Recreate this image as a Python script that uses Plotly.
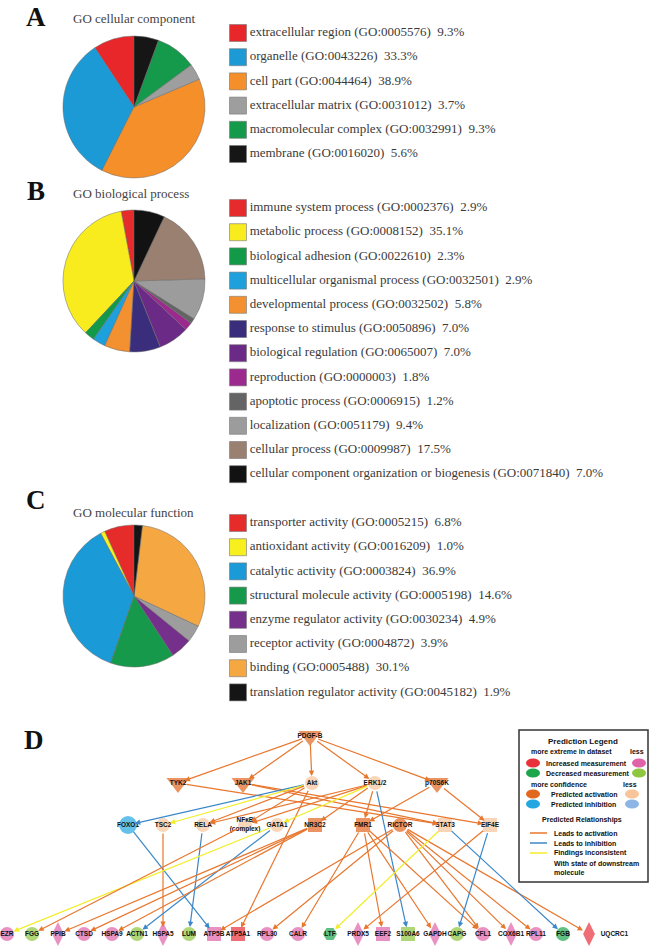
import plotly.graph_objects as go

# ---------------- GO pie data ----------------
cc_terms = ["extracellular region", "organelle", "cell part", "extracellular matrix",
            "macromolecular complex", "membrane"]
cc_ids = ["GO:0005576", "GO:0043226", "GO:0044464", "GO:0031012", "GO:0032991", "GO:0016020"]
cc_pct = [9.3, 33.3, 38.9, 3.7, 9.3, 5.6]
cc_colors = ["#E8272B", "#1C9AD6", "#F58F2A", "#9E9E9E", "#15994A", "#161616"]

bp_terms = ["immune system process", "metabolic process", "biological adhesion",
            "multicellular organismal process", "developmental process", "response to stimulus",
            "biological regulation", "reproduction", "apoptotic process", "localization",
            "cellular process", "cellular component organization or biogenesis"]
bp_ids = ["GO:0002376", "GO:0008152", "GO:0022610", "GO:0032501", "GO:0032502", "GO:0050896",
          "GO:0065007", "GO:0000003", "GO:0006915", "GO:0051179", "GO:0009987", "GO:0071840"]
bp_pct = [2.9, 35.1, 2.3, 2.9, 5.8, 7.0, 7.0, 1.8, 1.2, 9.4, 17.5, 7.0]
bp_colors = ["#E52B2B", "#F8EC1E", "#139A48", "#1DA0DB", "#F39130", "#3A2E7C",
             "#6B2A86", "#9C2A8E", "#646464", "#9C9C9C", "#9A8070", "#121212"]

mf_terms = ["transporter activity", "antioxidant activity", "catalytic activity",
            "structural molecule activity", "enzyme regulator activity", "receptor activity",
            "binding", "translation regulator activity"]
mf_ids = ["GO:0005215", "GO:0016209", "GO:0003824", "GO:0005198", "GO:0030234", "GO:0004872",
          "GO:0005488", "GO:0045182"]
mf_pct = [6.8, 1.0, 36.9, 14.6, 4.9, 3.9, 30.1, 1.9]
mf_colors = ["#E62B2B", "#F8EF1F", "#1B9AD8", "#16994A", "#74308A", "#9D9D9D", "#F5A742", "#151515"]

# ---------------- network data ----------------
node_names = ["PDGF-B",
              "TYK2", "JAK1", "Akt", "ERK1/2", "p70S6K",
              "FOXO1", "TSC2", "RELA", "NFκB", "GATA1", "NR3C2", "FMR1", "RICTOR", "STAT3", "EIF4E",
              "EZR", "FGG", "PPIB", "CTSD", "HSPA9", "ACTN1", "HSPA5", "LUM", "ATP5B", "ATP5A1",
              "RPL30", "CALR", "LTF", "PRDX5", "EEF2", "S100A6", "GAPDH", "CAPG", "CFL1",
              "COX6B1", "RPL11", "FGB", "UQCRC1"]
# state: act / act_lo / inh / up / up_lo / down / down_lo
node_state = ["act",
              "act", "act", "act_lo", "act_lo", "act",
              "inh", "act_lo", "act_lo", "act_lo", "act_lo", "act", "act", "act", "act_lo", "act_lo",
              "up_lo", "down_lo", "up_lo", "up_lo", "up_lo", "down_lo", "up_lo", "down_lo", "up_lo", "up",
              "up_lo", "up_lo", "down", "up_lo", "up_lo", "down_lo", "up_lo", "down_lo", "up_lo",
              "up_lo", "up_lo", "down", "up"]
node_shape = ["triangle-down",
              "triangle-down", "triangle-down", "circle", "circle", "triangle-down",
              "circle", "circle", "circle", "circle", "circle", "square", "square", "circle", "square", "square",
              "circle", "circle", "diamond-tall", "circle", "circle", "circle", "diamond-tall", "circle",
              "square", "square", "circle", "circle", "hexagon2", "diamond-tall", "square", "square",
              "diamond-tall", "circle", "circle", "diamond-tall", "circle", "circle", "diamond-tall"]

# (source, target, relationship)
edges = [
    ("PDGF-B", "TYK2", "act"), ("PDGF-B", "JAK1", "act"), ("PDGF-B", "Akt", "act"),
    ("PDGF-B", "ERK1/2", "act"), ("PDGF-B", "p70S6K", "act"),
    ("TYK2", "STAT3", "act"), ("JAK1", "STAT3", "act"), ("JAK1", "EIF4E", "act"),
    ("Akt", "FOXO1", "inh"), ("Akt", "TSC2", "inc"), ("Akt", "RELA", "act"), ("Akt", "NFκB", "act"),
    ("Akt", "ATP5A1", "act"),
    ("ERK1/2", "RELA", "act"), ("ERK1/2", "NFκB", "act"), ("ERK1/2", "GATA1", "inc"),
    ("ERK1/2", "NR3C2", "act"), ("ERK1/2", "FMR1", "act"), ("ERK1/2", "S100A6", "inh"),
    ("p70S6K", "FMR1", "act"), ("p70S6K", "EIF4E", "act"),
    ("FOXO1", "ATP5B", "inh"), ("TSC2", "HSPA5", "act"), ("RELA", "LUM", "inh"),
    ("GATA1", "ACTN1", "inh"), ("GATA1", "EZR", "inc"), ("NFκB", "FGG", "act"),
    ("NR3C2", "PPIB", "act"), ("NR3C2", "CTSD", "act"), ("NR3C2", "HSPA9", "act"),
    ("FMR1", "CALR", "act"), ("FMR1", "EEF2", "act"), ("FMR1", "GAPDH", "act"), ("FMR1", "CFL1", "act"),
    ("RICTOR", "ATP5B", "act"), ("RICTOR", "RPL30", "act"), ("RICTOR", "COX6B1", "act"),
    ("RICTOR", "RPL11", "act"), ("RICTOR", "UQCRC1", "act"), ("RICTOR", "CFL1", "act"),
    ("STAT3", "LTF", "inc"), ("STAT3", "FGB", "inh"),
    ("EIF4E", "PRDX5", "act"), ("EIF4E", "CAPG", "inh"),
]

# ---------------- layout of the network (pixel space) ----------------
row_y = {0: 736, 1: 783, 2: 825, 3: 934}
node_x = {
    "PDGF-B": 310,
    "TYK2": 178, "JAK1": 243, "Akt": 312, "ERK1/2": 375, "p70S6K": 437,
    "FOXO1": 128, "TSC2": 163, "RELA": 203, "NFκB": 245, "GATA1": 277, "NR3C2": 315,
    "FMR1": 363, "RICTOR": 400, "STAT3": 445, "EIF4E": 490,
    "EZR": 7, "FGG": 32, "PPIB": 58, "CTSD": 84, "HSPA9": 112, "ACTN1": 137, "HSPA5": 163,
    "LUM": 189, "ATP5B": 214, "ATP5A1": 238, "RPL30": 267, "CALR": 298, "LTF": 330,
    "PRDX5": 358, "EEF2": 383, "S100A6": 408, "GAPDH": 435, "CAPG": 457, "CFL1": 483,
    "COX6B1": 511, "RPL11": 536, "FGB": 563, "UQCRC1": 589,
}


def node_row(i):
    if i == 0:
        return 0
    if i <= 5:
        return 1
    if i <= 15:
        return 2
    return 3


state_color = {"act": "#E2671F", "act_lo": "#F8C49A", "inh": "#22A7E0", "up": "#E8313B",
               "up_lo": "#E063A9", "down": "#1DA54B", "down_lo": "#8DC63F"}
edge_color = {"act": "#E8772E", "inh": "#3B87C9", "inc": "#F2EE2B"}

SERIF = "Liberation Serif"
SANS = "Liberation Sans"

fig = go.Figure()

# ---------------- pies ----------------
pies = [
    ("A", "GO cellular component", cc_terms, cc_ids, cc_pct, cc_colors, 107, 18, 17, 33),
    ("B", "GO biological process", bp_terms, bp_ids, bp_pct, bp_colors, 281, 193, 191, 208),
    ("C", "GO molecular function", mf_terms, mf_ids, mf_pct, mf_colors, 596, 512, 500, 523),
]
H = 949.0
W = 650.0
R = 71
annotations = []
for letter, title, terms, ids, pct, colors, cy, ty, ly, ly0 in pies:
    # plotly puts the first ccw slice clockwise of the start angle; shift it to the left of 12 o'clock
    rot = -360.0 * pct[0] / sum(pct)
    fig.add_trace(go.Pie(
        values=pct, labels=terms, marker=dict(colors=colors, line=dict(color="#6a6a6a", width=0.5)),
        sort=False, direction="counterclockwise", rotation=rot, textinfo="none", hoverinfo="label+percent",
        domain=dict(x=[(134 - R) / W, (134 + R) / W], y=[1 - (cy + R) / H, 1 - (cy - R) / H]),
    ))
    ys = [ly0 + 24.2 * i for i in range(len(terms))]
    fig.add_trace(go.Scatter(
        x=[238] * len(terms), y=ys, mode="markers+text",
        marker=dict(symbol="square", size=17, color=colors, line=dict(color="#777", width=0.6)),
        text=[f"{t} ({g})  {p}%" for t, g, p in zip(terms, ids, pct)],
        textposition="middle right", textfont=dict(family=SERIF, size=13, color="#3a3a3a"),
        hoverinfo="skip", cliponaxis=False,
    ))
    annotations.append(dict(x=36, y=ly, text=f"<b>{letter}</b>", showarrow=False, xanchor="center",
                            yanchor="middle", font=dict(family=SERIF, size=27, color="#111")))
    annotations.append(dict(x=71, y=ty, text=title, showarrow=False, xanchor="left", yanchor="middle",
                            font=dict(family=SERIF, size=13, color="#444")))

annotations.append(dict(x=34, y=740, text="<b>D</b>", showarrow=False, xanchor="center", yanchor="middle",
                        font=dict(family=SERIF, size=27, color="#111")))

# ---------------- network edges ----------------
pos = {}
for i, n in enumerate(node_names):
    pos[n] = (node_x[n], row_y[node_row(i)])

for s, t, kind in edges:
    x0, y0 = pos[s]
    x1, y1 = pos[t]
    annotations.append(dict(
        x=x1, y=y1, ax=x0, ay=y0, xref="x", yref="y", axref="x", ayref="y", text="",
        showarrow=True, arrowhead=2, arrowsize=0.9, arrowwidth=1.2, arrowcolor=edge_color[kind],
        standoff=7, startstandoff=7,
    ))

# ---------------- network nodes ----------------
sizes = []
for i, shp in enumerate(node_shape):
    if shp == "triangle-down":
        sizes.append(20)
    elif shp == "diamond-tall":
        sizes.append(17)
    elif shp == "hexagon2":
        sizes.append(14)
    elif node_names[i] == "FOXO1":
        sizes.append(18)
    else:
        sizes.append(14)
labels = [("NFκB<br>(complex)" if n == "NFκB" else n) for n in node_names]
tpos = ["middle right" if n == "UQCRC1" else "middle center" for n in node_names]
fig.add_trace(go.Scatter(
    x=[pos[n][0] for n in node_names], y=[pos[n][1] for n in node_names],
    mode="markers+text", text=[f"<b>{l}</b>" for l in labels], textposition=tpos,
    textfont=dict(family=SANS, size=6.5, color="#111"),
    marker=dict(symbol=node_shape, size=sizes, color=[state_color[s] for s in node_state],
                line=dict(width=0)),
    hoverinfo="text", cliponaxis=False,
))

# ---------------- prediction legend ----------------
shapes = [dict(type="rect", x0=519, y0=730, x1=648, y1=882, xref="x", yref="y",
               line=dict(color="#333", width=1.5), fillcolor="rgba(0,0,0,0)")]
ovals = [(533, 763, "up"), (639, 763, "up_lo"), (533, 773, "down"), (639, 773, "down_lo"),
         (533, 794, "act"), (632, 794, "act_lo"), (533, 804, "inh"), (632, 804, "#8DB6E6")]
for ox, oy, st in ovals:
    col = state_color.get(st, st)
    shapes.append(dict(type="circle", x0=ox - 7, x1=ox + 7, y0=oy - 4.5, y1=oy + 4.5, xref="x", yref="y",
                       fillcolor=col, line=dict(width=0)))
for ly, kind in [(833, "act"), (843, "inh"), (853, "inc")]:
    shapes.append(dict(type="line", x0=530, x1=547, y0=ly, y1=ly, xref="x", yref="y",
                       line=dict(color=edge_color[kind], width=1.5)))

leg_text = [
    (583, 741, "Prediction Legend", "center", 8),
    (529, 751, "more extreme in dataset", "left", 7),
    (646, 751, "less", "right", 7),
    (544, 763, "Increased measurement", "left", 7),
    (544, 773, "Decreased measurement", "left", 7),
    (529, 784, "more confidence", "left", 7),
    (639, 784, "less", "right", 7),
    (549, 794, "Predicted activation", "left", 7),
    (549, 804, "Predicted inhibition", "left", 7),
    (582, 820, "Predicted Relationships", "center", 7),
    (552, 833, "Leads to activation", "left", 7),
    (552, 843, "Leads to inhibition", "left", 7),
    (552, 853, "Findings inconsistent", "left", 7),
    (552, 863, "With state of downstream", "left", 7),
    (552, 872, "molecule", "left", 7),
]
for tx, ty, txt, anc, fs in leg_text:
    annotations.append(dict(x=tx, y=ty, text=f"<b>{txt}</b>", showarrow=False, xanchor=anc, yanchor="middle",
                            font=dict(family=SANS, size=fs, color="#111")))

fig.update_layout(
    width=650, height=949, margin=dict(l=0, r=0, t=0, b=0),
    paper_bgcolor="white", plot_bgcolor="white", showlegend=False,
    xaxis=dict(range=[0, 650], domain=[0, 1], visible=False, fixedrange=True),
    yaxis=dict(range=[949, 0], domain=[0, 1], visible=False, fixedrange=True),
    annotations=annotations, shapes=shapes,
)

# page body has a default 8px margin; drop it so the figure fills the window
fig.write_html("out.html", config={"displayModeBar": False},
               post_script="document.body.style.margin='0';document.body.style.overflow='hidden';")
